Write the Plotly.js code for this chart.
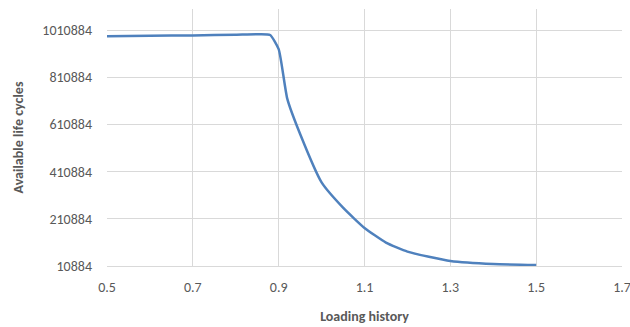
<!DOCTYPE html>
<html><head><meta charset="utf-8">
<script src="https://cdn.plot.ly/plotly-3.0.1.min.js"></script>
<style>html,body{margin:0;padding:0;background:#fff}#c{width:630px;height:327px}</style>
</head><body><div id="c"></div>
<script>
const loading = [0.5, 0.6, 0.7, 0.8, 0.85, 0.88, 0.9, 0.92, 0.95, 1.0, 1.05, 1.1, 1.15, 1.2, 1.25, 1.3, 1.4, 1.5];
const cycles  = [985000, 987000, 988000, 991000, 993000, 990000, 930000, 720000, 570000, 365000, 258000, 172000, 110000, 72000, 50000, 32000, 19000, 15000];
const yTicks = [10884, 210884, 410884, 610884, 810884, 1010884];
const xTicks = [0.5, 0.7, 0.9, 1.1, 1.3, 1.5, 1.7];

const font = "Carlito, Lato, 'Open Sans', 'Liberation Sans', sans-serif";
Plotly.newPlot('c', [{
  x: loading, y: cycles, type: 'scatter', mode: 'lines',
  line: {color: '#4f81bd', width: 2.5, shape: 'spline', smoothing: 0.5}
}], {
  width: 630, height: 327,
  margin: {l: 107, r: 8, t: 9, b: 61},
  paper_bgcolor: '#fff', plot_bgcolor: '#fff',
  showlegend: false,
  font: {family: font, color: '#595959', size: 14},
  xaxis: {
    range: [0.5, 1.7], tickvals: xTicks, ticktext: xTicks.map(v => v.toFixed(1)),
    showgrid: true, gridcolor: '#d9d9d9', gridwidth: 1,
    zeroline: false, showline: true, linecolor: '#d9d9d9', ticks: '',
    tickfont: {size: 14, color: '#595959'}, ticklabelstandoff: 8,
    ticklabeloverflow: 'allow',
    title: {text: '<b>Loading history</b>', font: {size: 14, color: '#595959'}, standoff: 16}
  },
  yaxis: {
    range: [10884, 1100000], tickvals: yTicks, ticktext: yTicks.map(String),
    showgrid: true, gridcolor: '#d9d9d9', gridwidth: 1,
    zeroline: false, showline: false, ticks: '',
    tickfont: {size: 14, color: '#595959'}, ticklabelstandoff: 14,
    title: {text: '<b>Available life cycles</b>', font: {size: 14, color: '#595959'}, standoff: 15}
  }
}, {staticPlot: true});
</script></body></html>
